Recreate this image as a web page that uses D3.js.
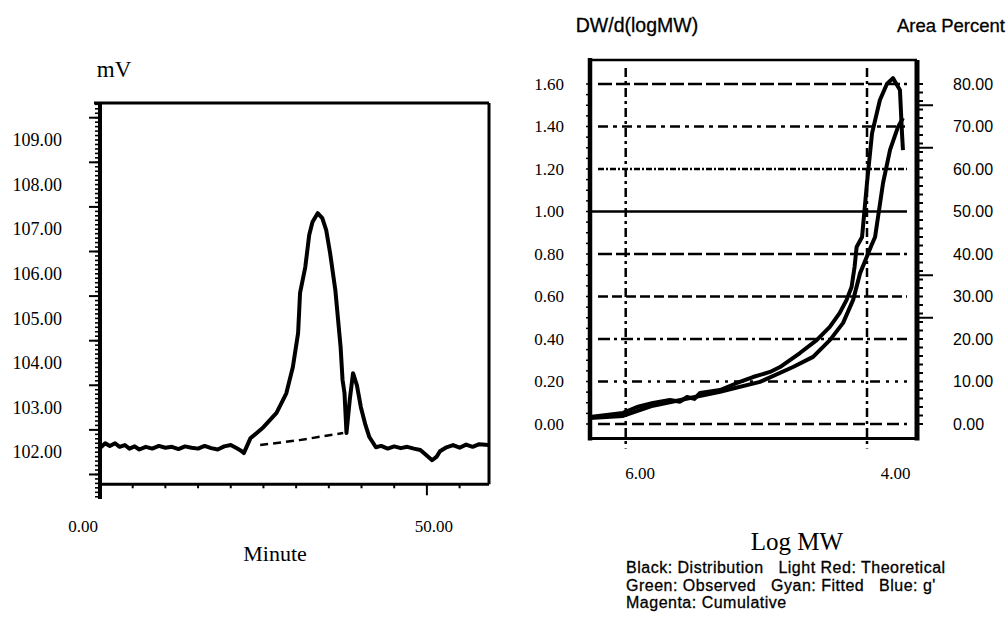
<!DOCTYPE html>
<html>
<head>
<meta charset="utf-8">
<script src="https://cdnjs.cloudflare.com/ajax/libs/d3/7.8.5/d3.min.js"></script>
<style>
body { margin: 0; background: #fff; }
svg { display: block; }
</style>
</head>
<body>
<svg width="1008" height="619"></svg>
<script>
// chromatogram (left)
const minutes = [0, 0.8, 1.5, 2.3, 3, 3.8, 4.5, 5.3, 6, 7, 8, 9, 10, 11, 12, 13, 14, 15, 16, 17, 18, 19, 20, 21,
    21.5, 22, 23, 25, 27, 28.5, 29.5, 30.3,
    30.6, 31.4, 32, 32.5, 33.3, 34, 34.6, 35.2, 36, 36.8, 37.1, 37.4, 37.7, 38.2, 38.7, 39.3, 39.9, 40.6, 41.2,
    42.2, 43, 44, 45, 46, 47, 48, 49, 49.8, 50.8, 51.5, 52, 53, 54, 55, 56, 57, 58, 59.4];
const millivolts = [102.09, 102.2, 102.14, 102.2, 102.12, 102.16, 102.08, 102.13, 102.06, 102.12, 102.08, 102.14,
    102.1, 102.12, 102.07, 102.13, 102.1, 102.08, 102.14, 102.09, 102.06, 102.13, 102.16, 102.08,
    102.04, 101.98, 102.31, 102.56, 102.88, 103.32, 103.91, 104.67,
    105.57, 106.15, 106.87, 107.16, 107.36, 107.25, 106.98, 106.46, 105.63, 104.36, 103.62, 103.32, 102.43,
    103.17, 103.77, 103.50, 103.01, 102.61, 102.34,
    102.11, 102.14, 102.08, 102.13, 102.09, 102.12, 102.08, 102.05, 101.95, 101.82, 101.9, 102.02, 102.11,
    102.16, 102.1, 102.17, 102.12, 102.18, 102.16];
const baselineMinutes = [24.5, 30.5, 37.2];
const baselineMillivolts = [102.16, 102.27, 102.43];
const lowerTraceLevel = 101.28;
const mvTicks = [102, 103, 104, 105, 106, 107, 108, 109];
const minuteTicks = [0, 50];

// molecular weight distribution (right)
const distLogMW = [6.296, 6.022, 5.906, 5.774, 5.633, 5.55, 5.492, 5.43, 5.384, 5.218,
    5.077, 4.945, 4.804, 4.721, 4.556, 4.417, 4.310, 4.227, 4.169, 4.128,
    4.103, 4.086, 4.041, 4.000, 3.958, 3.893, 3.835, 3.785, 3.727, 3.710, 3.702];
const distValue = [0.033, 0.052, 0.080, 0.099, 0.113, 0.105, 0.127, 0.118, 0.146, 0.160,
    0.193, 0.221, 0.245, 0.268, 0.334, 0.395, 0.456, 0.522, 0.584, 0.645,
    0.739, 0.833, 0.880, 1.134, 1.369, 1.525, 1.600, 1.628, 1.572, 1.369, 1.289];
const cumLogMW = [6.296, 6.022, 5.774, 5.467, 5.218, 4.887, 4.613, 4.447, 4.306, 4.198,
    4.115, 4.057, 3.962, 3.933, 3.867, 3.809, 3.743, 3.702];
const cumPercent = [1.4, 1.9, 4.3, 6.1, 7.6, 9.9, 13.4, 15.8, 19.8, 23.8,
    29.2, 35.5, 42.1, 44.0, 56.7, 64.5, 69.9, 72.0];
const dwTicks = [0, 0.2, 0.4, 0.6, 0.8, 1.0, 1.2, 1.4, 1.6];
const areaTicks = [0, 10, 20, 30, 40, 50, 60, 70, 80];
const areaLongTicks = [25, 35, 65, 75];
const logTicks = [6, 4];
const legendLines = [
    "Black: Distribution   Light Red: Theoretical",
    "Green: Observed   Gyan: Fitted   Blue: g'",
    "Magenta: Cumulative"
];

// one dash pattern per horizontal grid line, bottom to top
const gridDashes = ["12,5", "10,6,3,6,3,6", "12,4,3,4", "10,4", "14,4", null, "6,2,2,2", "10,5,4,5", "14,4"];

const serif = "'Liberation Serif', 'Times New Roman', serif";
const sans = "'Liberation Sans', Arial, sans-serif";

let svg = d3.select("svg");

// ---------- left panel ----------
let x1 = d3.scaleLinear().domain([0, 59.5]).range([100, 489]);
let y1 = d3.scaleLinear().domain([100.95, 109.83]).range([499, 103]);

let left = svg.append("g");

// minor / major ticks on the mV axis
left.selectAll(".minor")
    .data(d3.range(101.0, 109.81, 0.1))
    .enter()
    .append("line")
    .attr("x1", 95).attr("x2", 100)
    .attr("y1", d => y1(d)).attr("y2", d => y1(d))
    .attr("stroke", "black").attr("stroke-width", 1.6);

left.selectAll(".major")
    .data(d3.range(101.5, 109.6, 1))
    .enter()
    .append("line")
    .attr("x1", 89).attr("x2", 100)
    .attr("y1", d => y1(d)).attr("y2", d => y1(d))
    .attr("stroke", "black").attr("stroke-width", 2);

let yAxis1 = left.append("g")
    .attr("transform", "translate(100,0)")
    .call(d3.axisLeft(y1).tickValues(mvTicks).tickSize(0).tickPadding(38).tickFormat(d3.format(".2f")));
yAxis1.select(".domain").remove();
yAxis1.selectAll("text")
    .style("font-family", serif)
    .style("font-size", "18px")
    .attr("fill", "black");

// frame
left.append("line").attr("x1", 100).attr("x2", 100).attr("y1", y1.range()[1]).attr("y2", y1.range()[0])
    .attr("stroke", "black").attr("stroke-width", 4);
left.append("line").attr("x1", 94).attr("x2", x1.range()[1]).attr("y1", y1.range()[1]).attr("y2", y1.range()[1])
    .attr("stroke", "black").attr("stroke-width", 3);
left.append("line").attr("x1", x1.range()[1]).attr("x2", x1.range()[1]).attr("y1", y1.range()[1]).attr("y2", y1(lowerTraceLevel))
    .attr("stroke", "black").attr("stroke-width", 3);

// lower trace / time axis
left.append("line")
    .attr("x1", x1(0)).attr("x2", x1.range()[1])
    .attr("y1", y1(lowerTraceLevel)).attr("y2", y1(lowerTraceLevel))
    .attr("stroke", "black").attr("stroke-width", 3);

left.selectAll(".xtick")
    .data(d3.range(5, 56, 5))
    .enter()
    .append("line")
    .attr("x1", d => x1(d)).attr("x2", d => x1(d))
    .attr("y1", y1(lowerTraceLevel)).attr("y2", d => y1(lowerTraceLevel) + (d == 50 ? 11 : 4))
    .attr("stroke", "black").attr("stroke-width", 2);

left.selectAll(".xlabel")
    .data(minuteTicks)
    .enter()
    .append("text")
    .attr("x", d => x1(d) + (d == 0 ? -17 : 7))
    .attr("y", 532)
    .attr("text-anchor", "middle")
    .style("font-family", serif)
    .style("font-size", "17px")
    .text(d => d3.format(".2f")(d));

// dashed peak baseline
left.append("path")
    .datum(d3.zip(baselineMinutes, baselineMillivolts))
    .attr("d", d3.line().x(d => x1(d[0])).y(d => y1(d[1])))
    .attr("fill", "none")
    .attr("stroke", "black")
    .attr("stroke-width", 2.5)
    .attr("stroke-dasharray", "8,5");

// signal
left.append("path")
    .datum(d3.zip(minutes, millivolts))
    .attr("d", d3.line().x(d => x1(d[0])).y(d => y1(d[1])))
    .attr("fill", "none")
    .attr("stroke", "black")
    .attr("stroke-width", 4)
    .attr("stroke-linejoin", "round");

left.append("text")
    .attr("x", 114).attr("y", 77)
    .attr("text-anchor", "middle")
    .style("font-family", serif).style("font-size", "23px")
    .text("mV");

left.append("text")
    .attr("x", 275).attr("y", 561)
    .attr("text-anchor", "middle")
    .style("font-family", serif).style("font-size", "22px")
    .text("Minute");

// ---------- right panel ----------
let x2 = d3.scaleLinear().domain([6, 4]).range([625.7, 867]);
let y2 = d3.scaleLinear().domain([0, 1.6]).range([424, 84]);
let y3 = d3.scaleLinear().domain([0, 80]).range([424, 84]);

const plotLeft = 590, plotRight = 917, plotTop = 60, plotBottom = 438.5;

let right = svg.append("g");

// horizontal grid
right.selectAll(".hgrid")
    .data(dwTicks)
    .enter()
    .append("line")
    .attr("x1", (d, i) => gridDashes[i] ? 598 : plotLeft)
    .attr("x2", 907)
    .attr("y1", d => y2(d)).attr("y2", d => y2(d))
    .attr("stroke", "black")
    .attr("stroke-width", 2.5)
    .attr("stroke-dasharray", (d, i) => gridDashes[i]);

// vertical grid
right.selectAll(".vgrid")
    .data(logTicks)
    .enter()
    .append("line")
    .attr("x1", d => x2(d)).attr("x2", d => x2(d))
    .attr("y1", plotTop + 8).attr("y2", plotBottom + 10)
    .attr("stroke", "black")
    .attr("stroke-width", 2.5)
    .attr("stroke-dasharray", "9,4,3,4");

// frame
right.append("line").attr("x1", plotLeft).attr("x2", plotRight).attr("y1", plotTop).attr("y2", plotTop)
    .attr("stroke", "black").attr("stroke-width", 2.5);
right.append("line").attr("x1", plotLeft).attr("x2", plotRight).attr("y1", plotBottom).attr("y2", plotBottom)
    .attr("stroke", "black").attr("stroke-width", 3);
right.append("line").attr("x1", plotLeft).attr("x2", plotLeft).attr("y1", plotTop - 2).attr("y2", plotBottom + 2)
    .attr("stroke", "black").attr("stroke-width", 4.5);
right.append("line").attr("x1", plotRight).attr("x2", plotRight).attr("y1", plotTop).attr("y2", plotBottom + 2)
    .attr("stroke", "black").attr("stroke-width", 5);

// small ticks on both value axes
right.selectAll(".ltick")
    .data(d3.range(0, 1.61, 0.05))
    .enter()
    .append("line")
    .attr("x1", plotLeft - 4).attr("x2", plotLeft)
    .attr("y1", d => y2(d)).attr("y2", d => y2(d))
    .attr("stroke", "black").attr("stroke-width", 1.5);

right.selectAll(".rtick")
    .data(d3.range(0, 81, 2))
    .enter()
    .append("line")
    .attr("x1", plotRight).attr("x2", plotRight + 6)
    .attr("y1", d => y3(d)).attr("y2", d => y3(d))
    .attr("stroke", "black").attr("stroke-width", 2);

right.selectAll(".rlong")
    .data(areaLongTicks)
    .enter()
    .append("line")
    .attr("x1", plotRight).attr("x2", plotRight + 16)
    .attr("y1", d => y3(d)).attr("y2", d => y3(d))
    .attr("stroke", "black").attr("stroke-width", 2);

let yAxis2 = right.append("g")
    .attr("transform", "translate(" + plotLeft + ",0)")
    .call(d3.axisLeft(y2).tickValues(dwTicks).tickSize(0).tickPadding(26).tickFormat(d3.format(".2f")));
yAxis2.select(".domain").remove();
yAxis2.selectAll("text")
    .style("font-family", serif)
    .style("font-size", "17px")
    .attr("fill", "black");

let yAxis3 = right.append("g")
    .attr("transform", "translate(" + plotRight + ",0)")
    .call(d3.axisRight(y3).tickValues(areaTicks).tickSize(0).tickPadding(36).tickFormat(d3.format(".2f")));
yAxis3.select(".domain").remove();
yAxis3.selectAll("text")
    .style("font-family", sans)
    .style("font-size", "16px")
    .attr("fill", "black");

let xAxis2 = right.append("g")
    .attr("transform", "translate(0," + plotBottom + ")")
    .call(d3.axisBottom(x2).tickValues(logTicks).tickSize(0).tickPadding(28).tickFormat(d3.format(".2f")));
xAxis2.select(".domain").remove();
xAxis2.selectAll("text")
    .attr("dx", d => d == 6 ? 14 : 28)
    .style("font-family", serif)
    .style("font-size", "17px")
    .attr("fill", "black");

// curves
right.append("path")
    .datum(d3.zip(cumLogMW, cumPercent))
    .attr("d", d3.line().x(d => x2(d[0])).y(d => y3(d[1])))
    .attr("fill", "none")
    .attr("stroke", "black")
    .attr("stroke-width", 4)
    .attr("stroke-linejoin", "round");

right.append("path")
    .datum(d3.zip(distLogMW, distValue))
    .attr("d", d3.line().x(d => x2(d[0])).y(d => y2(d[1])))
    .attr("fill", "none")
    .attr("stroke", "black")
    .attr("stroke-width", 4)
    .attr("stroke-linejoin", "round");

// titles
right.append("text")
    .attr("x", 637).attr("y", 32)
    .attr("text-anchor", "middle")
    .style("font-family", sans).style("font-size", "19.5px")
    .attr("stroke", "black").attr("stroke-width", 0.3)
    .text("DW/d(logMW)");

right.append("text")
    .attr("x", 1005).attr("y", 32)
    .attr("text-anchor", "end")
    .style("font-family", sans).style("font-size", "18.5px")
    .attr("stroke", "black").attr("stroke-width", 0.3)
    .text("Area Percent");

right.append("text")
    .attr("x", 797).attr("y", 550)
    .attr("text-anchor", "middle")
    .style("font-family", serif).style("font-size", "25px")
    .text("Log MW");

right.selectAll(".legend")
    .data(legendLines)
    .enter()
    .append("text")
    .attr("x", 626)
    .attr("y", (d, i) => 573 + i * 17.5)
    .style("font-family", sans)
    .style("font-size", "16px")
    .style("letter-spacing", "0.5px")
    .style("white-space", "pre")
    .attr("stroke", "black").attr("stroke-width", 0.3)
    .text(d => d);
</script>
</body>
</html>
